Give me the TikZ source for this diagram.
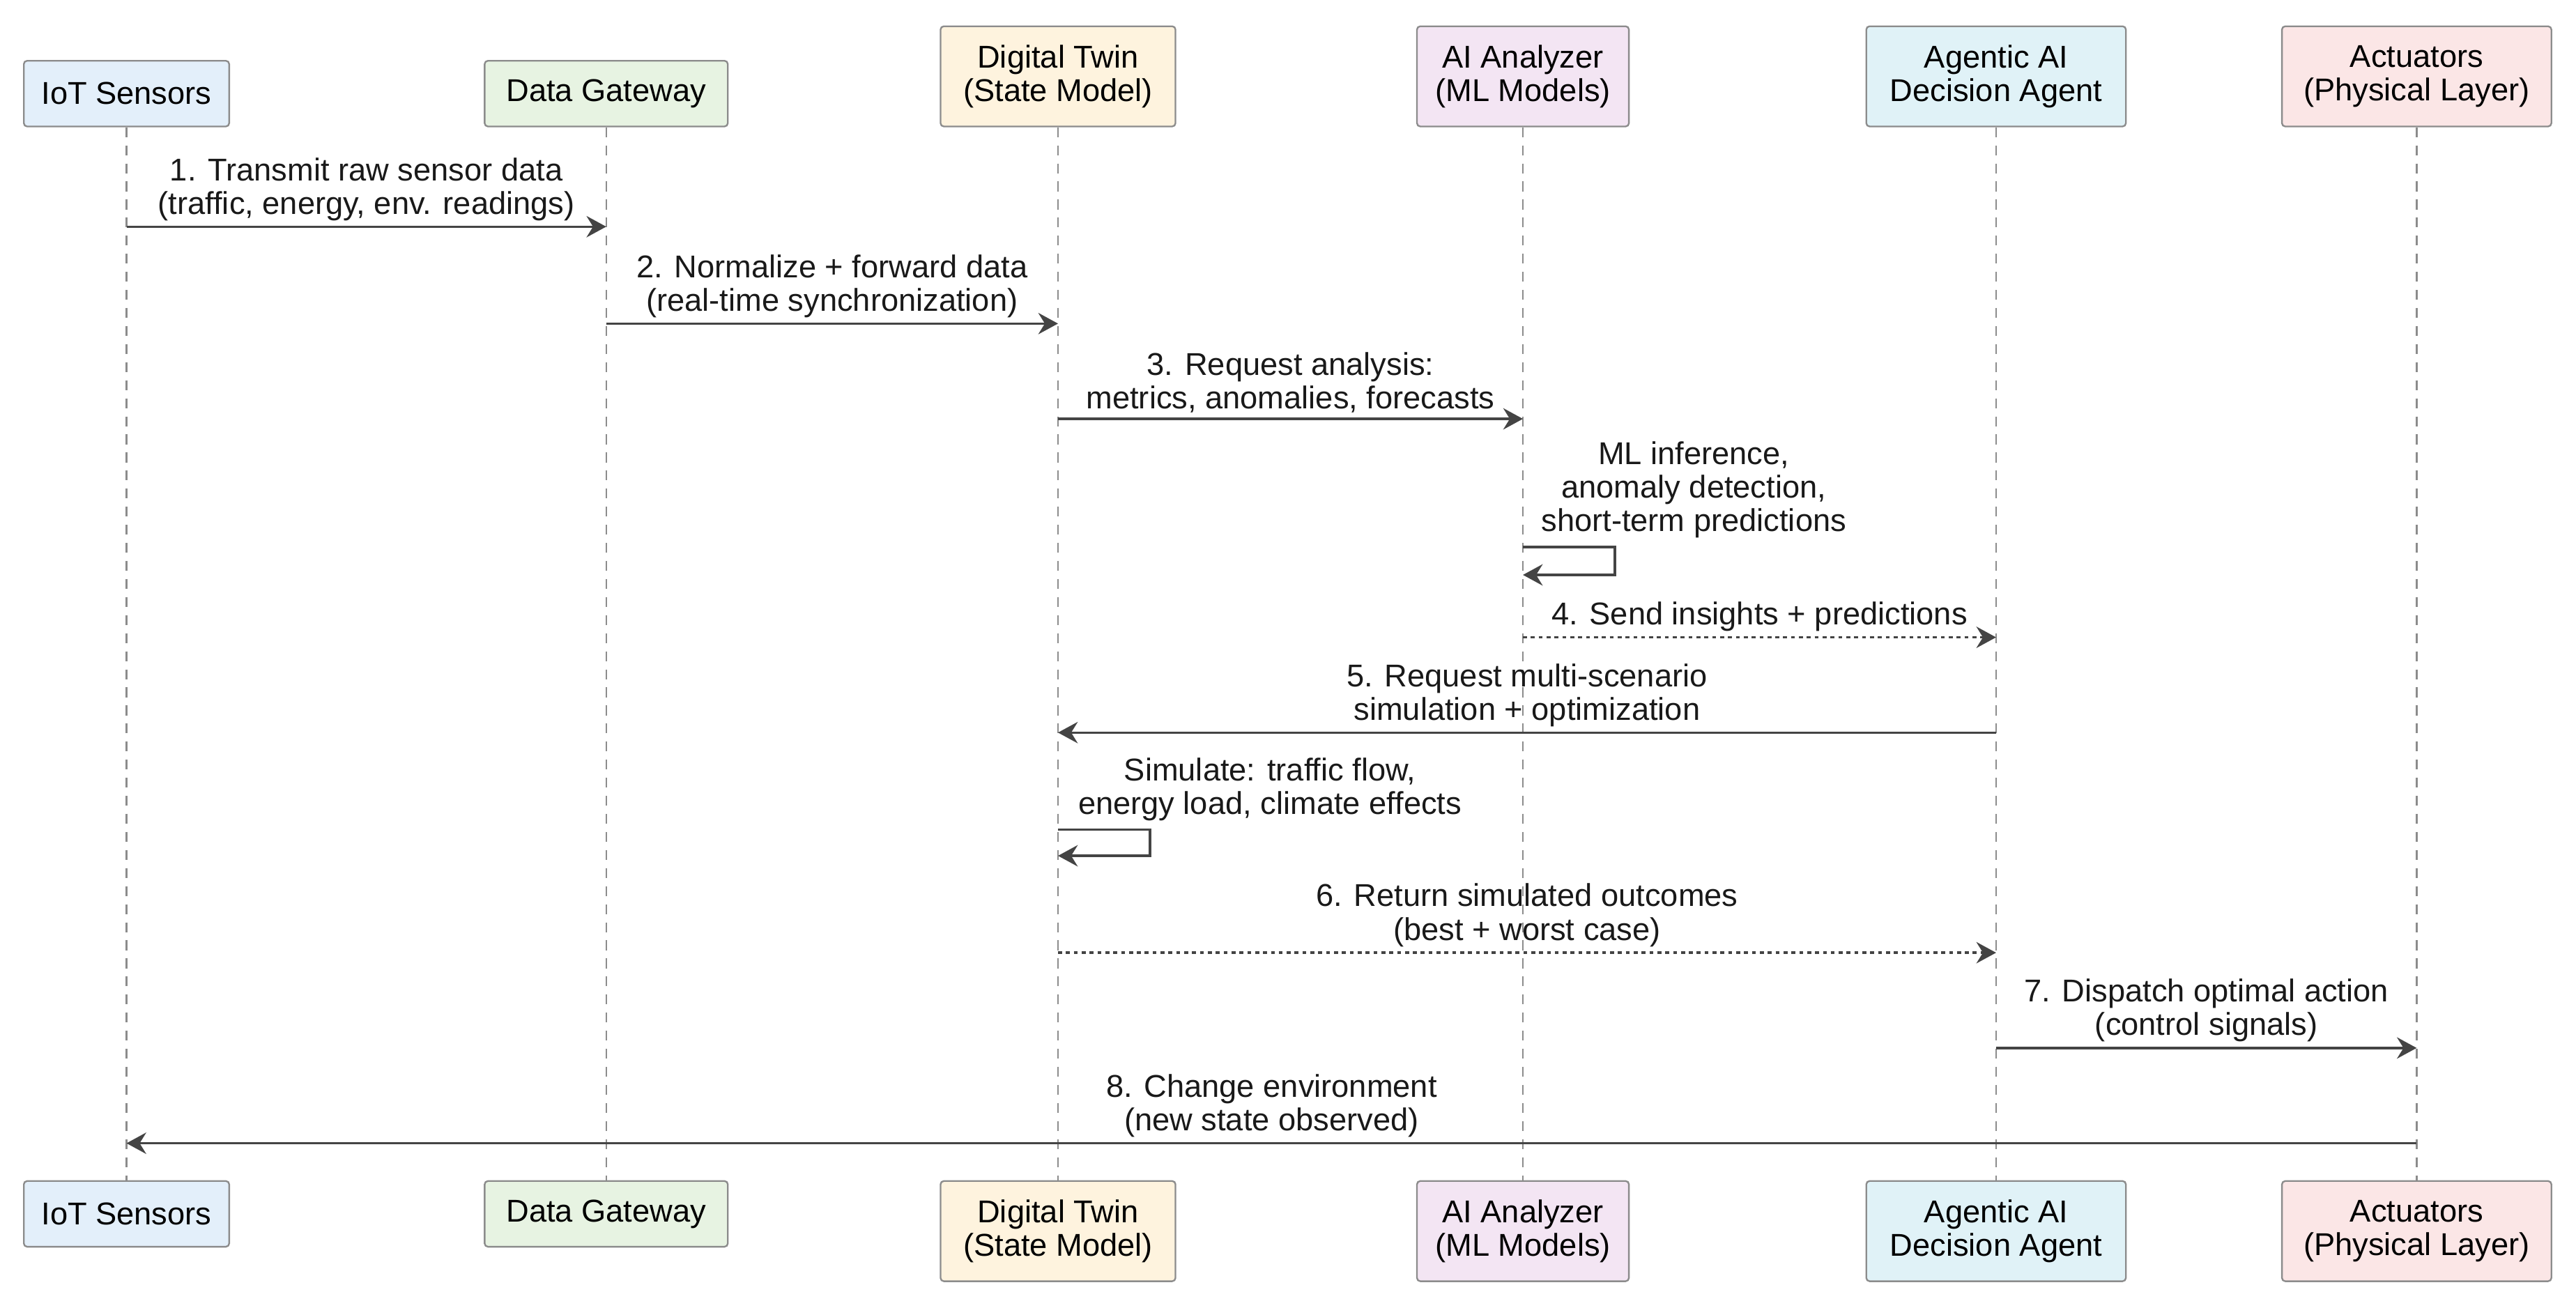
\documentclass[tikz,border=0pt]{standalone}
\usepackage{fontspec}
\setmainfont{Liberation Sans}
\usetikzlibrary{arrows.meta}
\definecolor{cIoT}{HTML}{E3EFFA}\definecolor{cGw}{HTML}{E7F3E2}\definecolor{cTw}{HTML}{FEF3DE}
\definecolor{cAI}{HTML}{F3E5F3}\definecolor{cAg}{HTML}{E0F2F7}\definecolor{cAc}{HTML}{FBE6E6}
\definecolor{ln}{HTML}{444444}
\begin{document}
\begin{tikzpicture}[x=0.5pt,y=-0.5pt,
 font=\fontsize{9.6}{10.2}\selectfont,
 box/.style={draw=black!45,line width=0.5pt,rounded corners=1pt,align=center,inner sep=0pt},
 life/.style={draw=black!45,dashed,dash pattern=on 3pt off 2.5pt,line width=0.5pt},
 msg/.style={draw=ln,line width=0.7pt,-{Stealth[length=6pt,width=6.5pt,inset=2pt]}},
 rmsg/.style={msg,dash pattern=on 1.2pt off 1.2pt},
 lab/.style={align=center,text=black!90,anchor=south,inner sep=1.5pt}]
\useasboundingbox (0,0) rectangle (1568,796);
\foreach \n/\c/\w/\x/\t in {IoT/cIoT/125/77/IoT Sensors,Gw/cGw/148/369/Data Gateway}{
 \node[box,fill=\c,minimum width=\w*0.5pt,minimum height=20pt] (t\n) at (\x,57) {\t};
 \node[box,fill=\c,minimum width=\w*0.5pt,minimum height=20pt] (b\n) at (\x,739) {\t};}
\foreach \n/\c/\w/\x/\t in {Tw/cTw/143/644/{Digital Twin\\(State Model)},AI/cAI/129/927/{AI Analyzer\\(ML Models)},Ag/cAg/158/1215/{Agentic AI\\Decision Agent},Ac/cAc/164/1471/{Actuators\\(Physical Layer)}}{
 \node[box,fill=\c,minimum width=\w*0.5pt,minimum height=30.5pt] (t\n) at (\x,46.5) {\t};
 \node[box,fill=\c,minimum width=\w*0.5pt,minimum height=30.5pt] (b\n) at (\x,749.5) {\t};}
\foreach \n in {IoT,Gw}{\draw[life] (t\n.south) -- (b\n.north);}
\foreach \n in {Tw,AI,Ag,Ac}{\draw[life] (t\n.south) -- (b\n.north);}
\coordinate (a1) at (77,138); \coordinate (b1) at (369,138);
\coordinate (a2) at (369,197); \coordinate (b2) at (644,197);
\coordinate (a3) at (644,255); \coordinate (b3) at (927,255);
\coordinate (s1) at (927,333); \coordinate (s1e) at (927,350);
\coordinate (a4) at (927,388); \coordinate (b4) at (1215,388);
\coordinate (a5) at (1215,446); \coordinate (b5) at (644,446);
\coordinate (s2) at (644,505); \coordinate (s2e) at (644,521);
\coordinate (a6) at (644,580); \coordinate (b6) at (1215,580);
\coordinate (a7) at (1215,638); \coordinate (b7) at (1471,638);
\coordinate (a8) at (1471,696); \coordinate (b8) at (77,696);
\draw[msg] (a1) -- node[lab]{1. Transmit raw sensor data\\(traffic, energy, env. readings)} (b1);
\draw[msg] (a2) -- node[lab]{2. Normalize + forward data\\(real-time synchronization)} (b2);
\draw[msg] (a3) -- node[lab]{3. Request analysis:\\metrics, anomalies, forecasts} (b3);
\draw[msg] (s1) -- ++(56,0) |- (s1e);
\node[lab] (l1) at (1031,331) {ML inference,\\anomaly detection,\\short-term predictions};
\draw[rmsg] (a4) -- node[lab]{4. Send insights + predictions} (b4);
\draw[msg] (a5) -- node[lab]{5. Request multi-scenario\\simulation + optimization} (b5);
\draw[msg] (s2) -- ++(56,0) |- (s2e);
\node[lab] (l2) at (773,503) {Simulate: traffic flow,\\energy load, climate effects};
\draw[rmsg] (a6) -- node[lab]{6. Return simulated outcomes\\(best + worst case)} (b6);
\draw[msg] (a7) -- node[lab]{7. Dispatch optimal action\\(control signals)} (b7);
\draw[msg] (a8) -- node[lab]{8. Change environment\\(new state observed)} (b8);
\end{tikzpicture}
\end{document}
